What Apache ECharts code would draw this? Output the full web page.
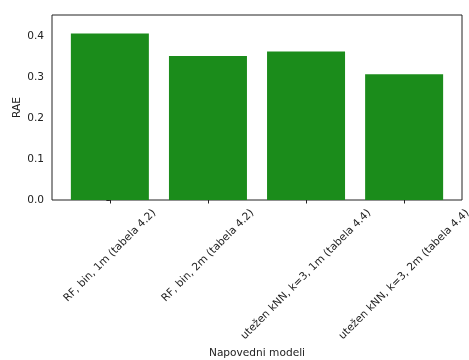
<!DOCTYPE html>
<html>
<head>
<meta charset="utf-8">
<script src="https://cdn.jsdelivr.net/npm/echarts@6/dist/echarts.min.js"></script>
<style>
  html, body { margin: 0; padding: 0; background: #fff; }
  #chart { width: 469px; height: 360px; }
</style>
</head>
<body>
<div id="chart"></div>
<script>
// RAE per prediction model
const categories = [
  'RF, bin, 1m (tabela 4.2)',
  'RF, bin, 2m (tabela 4.2)',
  'utežen kNN, k=3, 1m (tabela 4.4)',
  'utežen kNN, k=3, 2m (tabela 4.4)'
];
const raeValues = [0.407, 0.352, 0.363, 0.307];
const yTicks = [0.0, 0.1, 0.2, 0.3, 0.4];

const FONT_FAMILY = '"DejaVu Sans", sans-serif';
const FONT_SIZE = 10.6;
const FONT = FONT_SIZE + 'px ' + FONT_FAMILY;
const TEXT_COLOR = '#222';

const measureCtx = document.createElement('canvas').getContext('2d');
measureCtx.font = FONT;
function textWidth(s) { return measureCtx.measureText(s).width; }

const positions = categories.map((c, i) => i);
const barData = positions.map((x, i) => [x, raeValues[i]]);
const labelData = positions.map(x => [x, 0]);

const chart = echarts.init(document.getElementById('chart'), null, { renderer: 'canvas' });

chart.setOption({
  animation: false,
  backgroundColor: '#fff',
  textStyle: { fontFamily: FONT_FAMILY },
  grid: {
    left: 52, top: 15, width: 410, height: 185,
    outerBoundsMode: 'none',
    containLabel: false,
    show: true, borderColor: '#222', borderWidth: 1, backgroundColor: 'transparent'
  },
  xAxis: {
    type: 'value',
    min: -0.59, max: 3.59,
    splitLine: { show: false },
    axisLine: { show: false },
    axisTick: { show: true, length: 3.5, lineStyle: { color: TEXT_COLOR }, customValues: positions },
    axisLabel: { show: false },
    name: 'Napovedni modeli',
    nameLocation: 'middle',
    nameGap: 148,
    nameMoveOverlap: false,
    nameTextStyle: { color: TEXT_COLOR, fontSize: FONT_SIZE, fontFamily: FONT_FAMILY }
  },
  yAxis: {
    type: 'value',
    min: 0, max: 0.452,
    splitLine: { show: false },
    axisLine: { show: false },
    axisTick: { show: true, length: 3.5, lineStyle: { color: TEXT_COLOR }, customValues: yTicks },
    axisLabel: {
      customValues: yTicks,
      margin: 8,
      color: TEXT_COLOR, fontSize: FONT_SIZE, fontFamily: FONT_FAMILY,
      formatter: v => Number(v).toFixed(1)
    },
    name: 'RAE',
    nameLocation: 'middle',
    nameGap: 29,
    nameMoveOverlap: false,
    nameTextStyle: { color: TEXT_COLOR, fontSize: FONT_SIZE, fontFamily: FONT_FAMILY }
  },
  series: [
    {
      type: 'bar',
      data: barData,
      barWidth: 78,
      itemStyle: { color: '#1b8c1b' }
    },
    {
      // rotated category labels, centred under each tick
      type: 'custom',
      data: labelData,
      clip: false,
      silent: true,
      renderItem: function (params, api) {
        const idx = params.dataIndex;
        const p = api.coord([api.value(0), 0]);
        const text = categories[idx];
        const w = textWidth(text);
        const h = 12;
        const box = (w + h) / Math.SQRT2;
        return {
          type: 'text',
          x: p[0],
          y: p[1] + 7 + box / 2,
          rotation: Math.PI / 4,
          style: {
            text: text,
            font: FONT,
            fill: TEXT_COLOR,
            align: 'center',
            verticalAlign: 'middle'
          }
        };
      }
    }
  ]
});
</script>
</body>
</html>
